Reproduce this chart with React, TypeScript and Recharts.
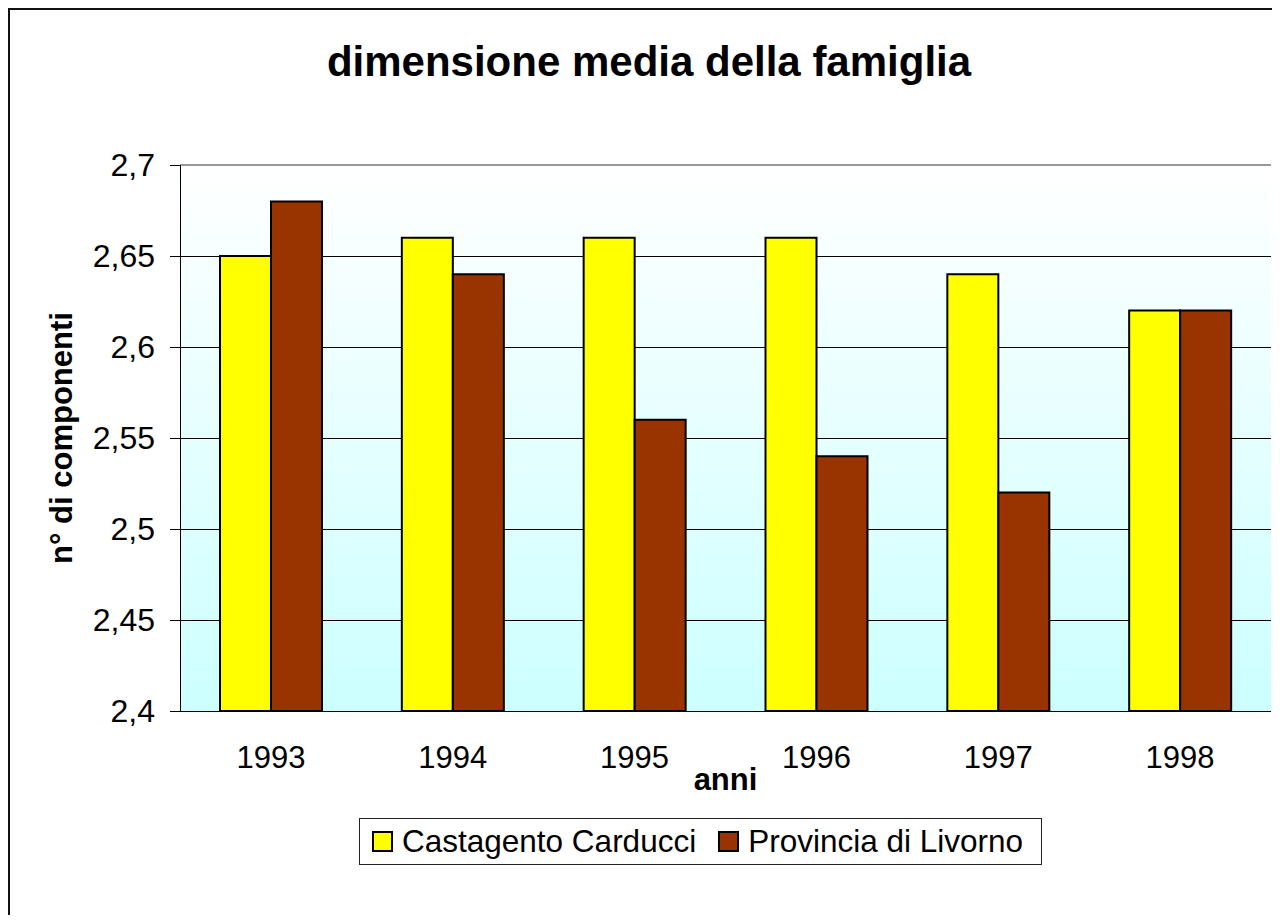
import { BarChart, Bar, XAxis, YAxis, CartesianGrid, ReferenceLine, Legend } from "recharts"

const years = ["1993", "1994", "1995", "1996", "1997", "1998"]
const castagneto = [2.65, 2.66, 2.66, 2.66, 2.64, 2.62]
const livorno = [2.68, 2.64, 2.56, 2.54, 2.52, 2.62]
const yTicks = [2.4, 2.45, 2.5, 2.55, 2.6, 2.65, 2.7]
const edgeTicks = [0, 1, 2, 3, 4, 5, 6]

const data = years.map((anno, i) => ({
  anno,
  castagneto: castagneto[i],
  livorno: livorno[i],
}))

const FONT = '"Liberation Sans", Arial, sans-serif'

function LegendBox({ payload }: any) {
  return (
    <div
      style={{
        display: "flex",
        alignItems: "center",
        border: "1px solid #222",
        background: "#fff",
        height: 47,
        boxSizing: "border-box",
        padding: "0 18px 0 12px",
        fontSize: 31.5,
        color: "#000",
        whiteSpace: "nowrap",
      }}
    >
      {(payload || []).map((p: any, i: number) => (
        <span key={p.value} style={{ display: "flex", alignItems: "center", marginLeft: i ? 22 : 0 }}>
          <span
            style={{
              width: 21,
              height: 21,
              border: "2px solid #000",
              background: p.color,
              boxSizing: "border-box",
              marginRight: 9,
            }}
          />
          {p.value}
        </span>
      ))}
    </div>
  )
}

export default function App() {
  return (
    <div style={{ position: "relative", width: 1264, height: 907, fontFamily: FONT, overflow: "hidden" }}>
      <div
        style={{
          position: "absolute",
          left: 0,
          top: 0,
          width: 1300,
          height: 1000,
          borderTop: "2px solid #111",
          borderLeft: "2px solid #111",
          boxSizing: "border-box",
        }}
      />
      <div
        style={{
          position: "absolute",
          left: 641,
          top: 33,
          transform: "translateX(-50%)",
          fontSize: 42,
          lineHeight: "42px",
          fontWeight: "bold",
          whiteSpace: "nowrap",
        }}
      >
        dimensione media della famiglia
      </div>
      <BarChart
        width={1264}
        height={907}
        data={data}
        margin={{ top: 157, right: 1, bottom: 124, left: 0 }}
        barGap={0}
        barSize={51}
      >
        <defs>
          <linearGradient id="bg" x1="0" y1="0" x2="0" y2="1">
            <stop offset="0%" stopColor="#ffffff" />
            <stop offset="100%" stopColor="#ccffff" />
          </linearGradient>
        </defs>
        <CartesianGrid vertical={false} stroke="#000" fill="url(#bg)" fillOpacity={1} shapeRendering="crispEdges" />
        <XAxis
          xAxisId="edge"
          type="number"
          domain={[0, 6]}
          ticks={edgeTicks}
          height={0}
          tickSize={9}
          tickFormatter={() => ""}
          axisLine={{ stroke: "#000", shapeRendering: "crispEdges" }}
          tickLine={{ stroke: "#555", shapeRendering: "crispEdges" }}
        />
        <XAxis
          dataKey="anno"
          height={80}
          axisLine={false}
          tickLine={false}
          tickSize={0}
          tickMargin={35}
          tick={{ fontSize: 31, fill: "#000" }}
          label={(props: any) => {
            const vb = props.viewBox
            return (
              <text x={vb.x + vb.width / 2} y={vb.y + 79} textAnchor="middle" fontSize={31} fontWeight="bold" fill="#000">
                anni
              </text>
            )
          }}
        />
        <YAxis
          width={172}
          domain={[2.4, 2.7]}
          ticks={yTicks}
          tickSize={10}
          tickMargin={15}
          axisLine={{ stroke: "#000", shapeRendering: "crispEdges" }}
          tickLine={{ stroke: "#000", shapeRendering: "crispEdges" }}
          tick={{ fontSize: 32, fill: "#000" }}
          tickFormatter={(v: number) => String(v).replace(".", ",")}
          label={(props: any) => {
            const vb = props.viewBox
            const cy = vb.y + vb.height / 2
            return (
              <text
                x={64}
                y={cy}
                transform={`rotate(-90 64 ${cy})`}
                textAnchor="middle"
                fontSize={31}
                fontWeight="bold"
                fill="#000"
              >
                n° di componenti
              </text>
            )
          }}
        />
        <ReferenceLine y={2.7} stroke="#999" strokeWidth={2} />
        <ReferenceLine x={6} xAxisId="edge" stroke="#999" strokeWidth={2} />
        <Legend
          layout="horizontal"
          verticalAlign="middle"
          align="center"
          content={<LegendBox />}
          wrapperStyle={{ top: 810, left: 351, width: "auto", height: "auto" }}
        />
        <Bar dataKey="castagneto" name="Castagento Carducci" fill="#ffff00" stroke="#000" strokeWidth={2} isAnimationActive={false} />
        <Bar dataKey="livorno" name="Provincia di Livorno" fill="#993300" stroke="#000" strokeWidth={2} isAnimationActive={false} />
      </BarChart>
    </div>
  )
}
